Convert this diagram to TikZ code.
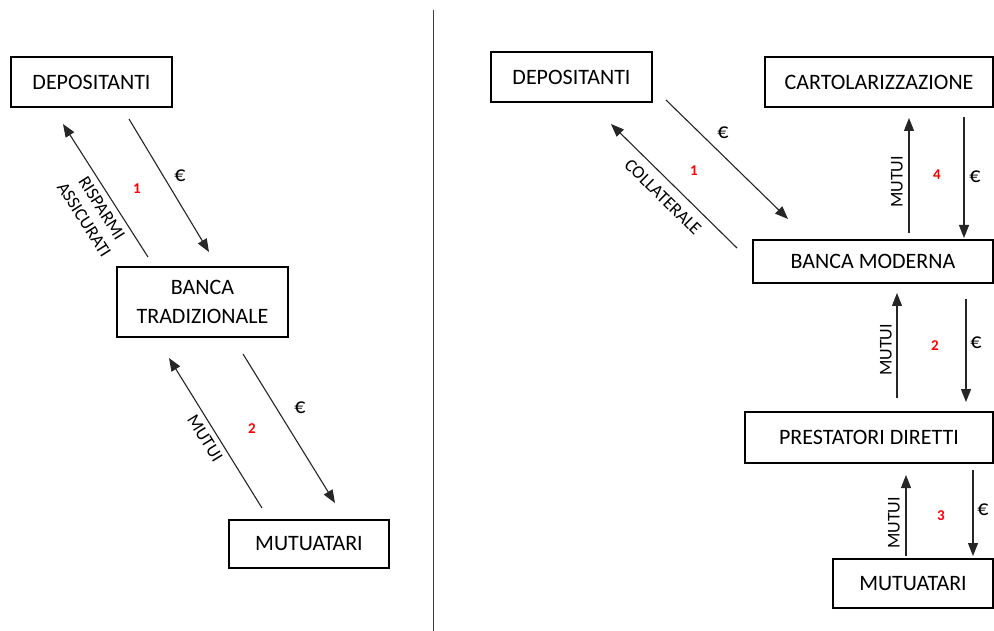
\documentclass[tikz,border=0pt]{standalone}
\usepackage{fontspec}
\setmainfont{Carlito}
\usetikzlibrary{arrows.meta}
\begin{document}
\begin{tikzpicture}[x=1pt,y=-1pt,
  box/.style={draw, line width=1.6pt, inner sep=0pt, align=center,
    font=\fontsize{22}{29}\selectfont},
  flow/.style={line width=1.1pt, draw=black!85, -{Triangle[length=13pt,width=10pt]}},
  lbl/.style={font=\fontsize{18}{21}\selectfont, inner sep=0pt, align=center},
  eur/.style={font=\fontsize{22}{25}\selectfont, inner sep=0pt},
  num/.style={font=\bfseries\fontsize{15}{16}\selectfont, text=red, inner sep=0pt}]
\useasboundingbox (0,0) rectangle (994,631);
\fill[white] (0,0) rectangle (994,631);
% divider
\draw[line width=1pt, black!75] (433,10) -- (433,631);

% ---------- left: traditional bank ----------
\node[box, minimum width=161pt, minimum height=50pt] (ldep) at (91.5,82) {DEPOSITANTI};
\node[box, minimum width=171pt, minimum height=70pt] (lbank) at (202.5,302) {BANCA\\TRADIZIONALE};
\node[box, minimum width=160pt, minimum height=48pt] (lmut) at (309,544) {MUTUATARI};

\coordinate (a1s) at (148,257); \coordinate (a1e) at (63,124);
\coordinate (b1s) at (129,119); \coordinate (b1e) at (209,252);
\draw[flow] (a1s) -- (a1e);
\draw[flow] (b1s) -- (b1e);
\node[eur] (e1) at (180,176) {€};
\node[num] (n1) at (137,189) {1};
\node[lbl, rotate=-57.4] (ris) at (93,214) {RISPARMI\\ASSICURATI};

\coordinate (a2s) at (262,508); \coordinate (a2e) at (169,358);
\coordinate (b2s) at (243,354); \coordinate (b2e) at (335,503);
\draw[flow] (a2s) -- (a2e);
\draw[flow] (b2s) -- (b2e);
\node[eur] (e2) at (300,408) {€};
\node[num] (n2) at (252,429) {2};
\node[lbl, rotate=-58.2] (mu2) at (205,438) {MUTUI};

% ---------- right: modern bank ----------
\node[box, minimum width=161pt, minimum height=50pt] (rdep) at (571.5,77) {DEPOSITANTI};
\node[box, minimum width=228pt, minimum height=50pt] (cart) at (879,82) {CARTOLARIZZAZIONE};
\node[box, minimum width=240pt, minimum height=43pt] (rbank) at (873,261.5) {BANCA MODERNA};
\node[box, minimum width=248pt, minimum height=51pt] (prest) at (869,437.5) {PRESTATORI DIRETTI};
\node[box, minimum width=160pt, minimum height=49pt] (rmut) at (913,583.5) {MUTUATARI};

% pair 1
\coordinate (c1s) at (666,100); \coordinate (c1e) at (788,219);
\coordinate (d1s) at (737,248); \coordinate (d1e) at (611,124);
\draw[flow] (c1s) -- (c1e);
\draw[flow] (d1s) -- (d1e);
\node[eur] (re1) at (723,133) {€};
\node[num] (rn1) at (694,171) {1};
\node[lbl, rotate=-44.5] (coll) at (663,197) {COLLATERALE};

% pair 4
\coordinate (u4s) at (909,233); \coordinate (u4e) at (909,118);
\coordinate (v4s) at (964,117); \coordinate (v4e) at (964,238);
\draw[flow] (u4s) -- (u4e);
\draw[flow] (v4s) -- (v4e);
\node[lbl, rotate=90] (mu4) at (897,182) {MUTUI};
\node[num] (rn4) at (937,175) {4};
\node[eur] (re4) at (975,177) {€};

% pair 2
\coordinate (u2s) at (897,398); \coordinate (u2e) at (897,293);
\coordinate (v2s) at (966,299); \coordinate (v2e) at (966,402);
\draw[flow] (u2s) -- (u2e);
\draw[flow] (v2s) -- (v2e);
\node[lbl, rotate=90] (rmu2) at (886,350) {MUTUI};
\node[num] (rn2) at (935,346) {2};
\node[eur] (re2) at (976,343) {€};

% pair 3
\coordinate (u3s) at (906,556); \coordinate (u3e) at (906,475);
\coordinate (v3s) at (973,470); \coordinate (v3e) at (973,556);
\draw[flow] (u3s) -- (u3e);
\draw[flow] (v3s) -- (v3e);
\node[lbl, rotate=90] (rmu3) at (894,523) {MUTUI};
\node[num] (rn3) at (941,516) {3};
\node[eur] (re3) at (983,510) {€};
\end{tikzpicture}
\end{document}
